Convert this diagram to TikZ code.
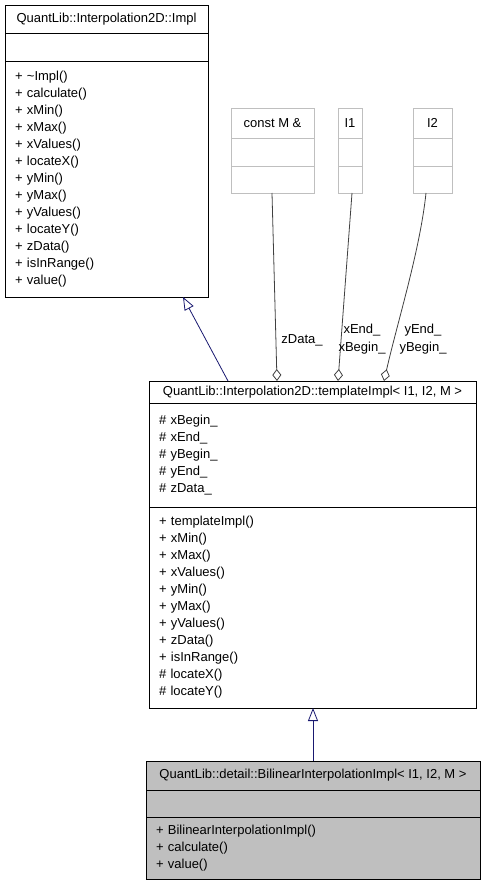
\documentclass[tikz,border=0pt]{standalone}
\usepackage{fontspec}
\setmainfont{Liberation Sans}
\usetikzlibrary{positioning,arrows.meta}

\definecolor{inheritblue}{RGB}{25,25,112}
\definecolor{usegray}{RGB}{64,64,64}
\definecolor{parmgray}{RGB}{191,191,191}
\definecolor{hilite}{RGB}{191,191,191}

\begin{document}
\begin{tikzpicture}[x=1pt, y=-1pt,
    umlfont/.style={font=\fontsize{13}{17}\selectfont},
    classpart/.style={rectangle, draw=black, line width=0.9pt, inner sep=0pt, outer sep=0pt, umlfont},
    members/.style={classpart, align=left, inner xsep=10pt},
    parmpart/.style={rectangle, draw=parmgray, line width=0.9pt, inner sep=0pt, outer sep=0pt, umlfont},
    edgelabel/.style={inner sep=0pt, font=\fontsize{13}{18}\selectfont, align=center},
    inherit/.style={draw=inheritblue, line width=0.8pt, -{Triangle[open, length=13pt, width=10pt]}},
    aggr/.style={draw=usegray, line width=0.8pt, -{Diamond[open, length=12pt, width=9pt]}}
]
    \useasboundingbox (0,0) rectangle (485,885);

    % Interpolation2D::Impl at the top left
    \node [classpart, minimum width=203pt, minimum height=28pt, anchor=north west] (impl) at (5,5) {QuantLib::Interpolation2D::Impl};
    \node [classpart, minimum width=203pt, minimum height=28pt, below=0pt of impl] (impl-attr) {};
    \node [members, text width=183pt, minimum height=236pt, below=0pt of impl-attr] (impl-ops) {
        + \textasciitilde Impl()\\
        + calculate()\\
        + xMin()\\
        + xMax()\\
        + xValues()\\
        + locateX()\\
        + yMin()\\
        + yMax()\\
        + yValues()\\
        + locateY()\\
        + zData()\\
        + isInRange()\\
        + value()
    };

    % template parameters
    \node [parmpart, minimum width=83pt, minimum height=30pt, anchor=north west] (constm) at (231,108) {const M \&};
    \node [parmpart, minimum width=83pt, minimum height=28pt, below=0pt of constm] (constm-attr) {};
    \node [parmpart, minimum width=83pt, minimum height=27pt, below=0pt of constm-attr] (constm-ops) {};

    \node [parmpart, minimum width=24pt, minimum height=30pt, anchor=north west] (ione) at (338,108) {I1};
    \node [parmpart, minimum width=24pt, minimum height=28pt, below=0pt of ione] (ione-attr) {};
    \node [parmpart, minimum width=24pt, minimum height=27pt, below=0pt of ione-attr] (ione-ops) {};

    \node [parmpart, minimum width=39pt, minimum height=30pt, anchor=north west] (itwo) at (413,108) {I2};
    \node [parmpart, minimum width=39pt, minimum height=28pt, below=0pt of itwo] (itwo-attr) {};
    \node [parmpart, minimum width=39pt, minimum height=27pt, below=0pt of itwo-attr] (itwo-ops) {};

    % Interpolation2D::templateImpl in the middle
    \node [classpart, minimum width=327pt, minimum height=22pt, anchor=north west] (tmpl) at (149,381) {QuantLib::Interpolation2D::templateImpl< I1, I2, M >};
    \node [members, text width=307pt, minimum height=104pt, below=0pt of tmpl] (tmpl-attr) {
        \# xBegin\_\\
        \# xEnd\_\\
        \# yBegin\_\\
        \# yEnd\_\\
        \# zData\_
    };
    \node [members, text width=307pt, minimum height=201pt, below=0pt of tmpl-attr] (tmpl-ops) {
        + templateImpl()\\
        + xMin()\\
        + xMax()\\
        + xValues()\\
        + yMin()\\
        + yMax()\\
        + yValues()\\
        + zData()\\
        + isInRange()\\
        \# locateX()\\
        \# locateY()
    };

    % detail::BilinearInterpolationImpl at the bottom
    \node [classpart, fill=hilite, minimum width=334pt, minimum height=29pt, anchor=north west] (bili) at (146,761) {QuantLib::detail::BilinearInterpolationImpl< I1, I2, M >};
    \node [classpart, fill=hilite, minimum width=334pt, minimum height=27pt, below=0pt of bili] (bili-attr) {};
    \node [members, fill=hilite, text width=314pt, minimum height=62pt, below=0pt of bili-attr] (bili-ops) {
        + BilinearInterpolationImpl()\\
        + calculate()\\
        + value()
    };

    % inheritance (blue)
    \draw [inherit] (228,0 |- tmpl.north) -- (183,0 |- impl-ops.south);
    \draw [inherit] (bili.north) -- (bili.north |- tmpl-ops.south);

    % usage of template parameters (gray, diamonds)
    \draw [aggr] (272,0 |- constm-ops.south) -- (277,0 |- tmpl.north);
    \draw [aggr] (352,0 |- ione-ops.south) -- (338,0 |- tmpl.north);
    \draw [aggr] (426,0 |- itwo-ops.south) .. controls (420,250) and (398,320) .. (384,0 |- tmpl.north);

    \node [edgelabel] (lbl-z) at (302,340) {zData\_};
    \node [edgelabel] (lbl-x) at (362,339) {xEnd\_\\xBegin\_};
    \node [edgelabel] (lbl-y) at (423,339) {yEnd\_\\yBegin\_};
\end{tikzpicture}
\end{document}
